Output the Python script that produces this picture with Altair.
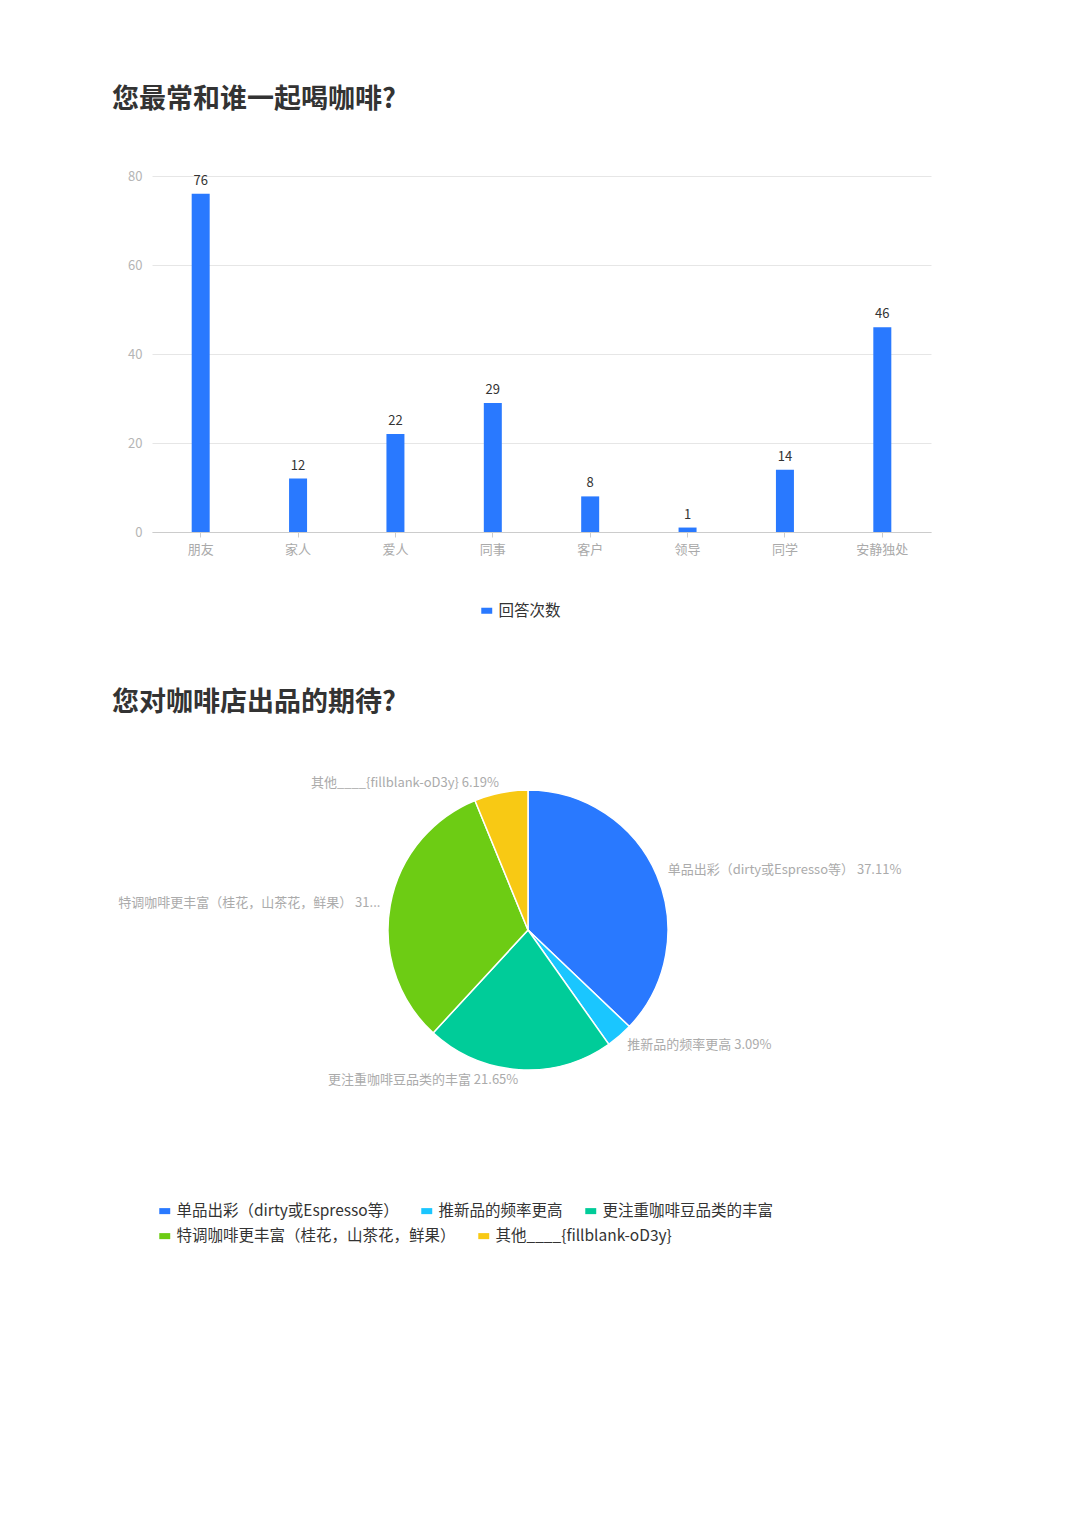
import altair as alt
import pandas as pd

# ---------------- data ----------------
bar_title = "您最常和谁一起喝咖啡?"
bar_categories = ["朋友", "家人", "爱人", "同事", "客户", "领导", "同学", "安静独处"]
bar_values = [76, 12, 22, 29, 8, 1, 14, 46]
bar_series = "回答次数"
y_ticks = [0, 20, 40, 60, 80]

pie_title = "您对咖啡店出品的期待?"
pie_categories = [
    "单品出彩（dirty或Espresso等）",
    "推新品的频率更高",
    "更注重咖啡豆品类的丰富",
    "特调咖啡更丰富（桂花，山茶花，鲜果）",
    "其他____{fillblank-oD3y}",
]
pie_values = [36, 3, 21, 31, 6]
pie_label_texts = [
    "单品出彩（dirty或Espresso等）  37.11%",
    "推新品的频率更高 3.09%",
    "更注重咖啡豆品类的丰富 21.65%",
    "特调咖啡更丰富（桂花，山茶花，鲜果） 31...",
    "其他____{fillblank-oD3y} 6.19%",
]
legend_row1 = pie_categories[:3]
legend_row2 = pie_categories[3:]
pie_colors = ["#2979FF", "#1AC6FF", "#00CC99", "#6DCC14", "#F8C914"]
bar_color = "#2979FF"

FONT = "Noto Sans CJK SC"
RECT = "M-1,-0.55L1,-0.55L1,0.55L-1,0.55Z"

# ---------------- bar chart ----------------
bar_df = pd.DataFrame({"cat": bar_categories, "value": bar_values, "series": bar_series})

bar_base = alt.Chart(bar_df).encode(
    x=alt.X("cat:N", sort=bar_categories, title=None,
            scale=alt.Scale(paddingInner=0, paddingOuter=0),
            axis=alt.Axis(labelAngle=0, domainColor="#cccccc", tickColor="#cccccc",
                          tickSize=5, labelColor="#aaaaaa", labelFontSize=13,
                          labelPadding=6, labelFont=FONT, grid=False)),
    y=alt.Y("value:Q", title=None, scale=alt.Scale(domain=[0, 80], nice=False),
            axis=alt.Axis(values=y_ticks, domain=False, ticks=False, gridColor="#e6e6e6",
                          labelColor="#b5b5b5", labelFontSize=13, labelPadding=10,
                          labelFont=FONT)),
)

bars = bar_base.mark_bar(size=18).encode(
    color=alt.Color("series:N", scale=alt.Scale(domain=[bar_series], range=[bar_color]),
                    legend=alt.Legend(title=None, orient="none", legendX=327, legendY=427,
                                      direction="horizontal",
                                      symbolType=RECT, symbolSize=120, labelFontSize=15.5,
                                      labelColor="#333333", labelFont=FONT,
                                      symbolStrokeWidth=0))
)
bar_text = bar_base.mark_text(baseline="bottom", dy=-6, fontSize=13, color="#333333",
                              font=FONT).encode(text="value:Q")

bar_chart = (bars + bar_text).properties(
    width=779, height=356,
    title=alt.TitleParams(bar_title, anchor="start", frame="group", dx=-40, offset=56,
                          fontSize=27, fontWeight="bold", color="#333333", font=FONT),
)

# ---------------- pie chart ----------------
total = sum(pie_values)
cum = 0
mids, sides = [], []
for v in pie_values:
    mids.append(cum + v / 2)
    sides.append("right" if (cum + v / 2) / total < 0.5 else "left")
    cum += v
pie_df = pd.DataFrame({
    "cat": pie_categories, "value": pie_values, "idx": list(range(len(pie_values))),
    "label": pie_label_texts, "mid": mids, "side": sides,
})


def legend_for(values, y):
    return alt.Legend(title=None, orient="none", legendX=5, legendY=y, values=values,
                      direction="horizontal", columnPadding=20,
                      symbolType=RECT, symbolSize=120, symbolStrokeWidth=0,
                      labelFontSize=15.5, labelColor="#333333", labelFont=FONT,
                      labelLimit=500)


def arc_layer(values, y):
    return alt.Chart(pie_df).mark_arc(outerRadius=140, stroke="white", strokeWidth=1.5).encode(
        theta=alt.Theta("value:Q", stack=True),
        order=alt.Order("idx:Q"),
        color=alt.Color("cat:N", sort=pie_categories,
                        scale=alt.Scale(domain=pie_categories, range=pie_colors),
                        legend=legend_for(values, y)),
    )


arcs1 = arc_layer(legend_row1, 433)
arcs2 = arc_layer(legend_row2, 458)

label_right = alt.Chart(pie_df).transform_filter("datum.side == 'right'").mark_text(
    align="left", baseline="middle", fontSize=13, color="#ababab", font=FONT
).encode(
    theta=alt.Theta("mid:Q", stack=None),
    radius=alt.value(152),
    text="label:N",
)
label_left = alt.Chart(pie_df).transform_filter("datum.side == 'left'").mark_text(
    align="right", baseline="middle", fontSize=13, color="#ababab", font=FONT
).encode(
    theta=alt.Theta("mid:Q", stack=None),
    radius=alt.value(150),
    text="label:N",
)

pie_chart = alt.layer(arcs1, arcs2, label_right, label_left).properties(
    width=752, height=320,
    title=alt.TitleParams(pie_title, anchor="start", frame="group", dx=-40, offset=53,
                          fontSize=27, fontWeight="bold", color="#333333", font=FONT),
).resolve_scale(theta="shared", color="independent").resolve_legend(color="independent")

chart = alt.vconcat(bar_chart, pie_chart, spacing=69).resolve_scale(
    color="independent"
).resolve_legend(color="independent").properties(
    padding={"left": 104, "top": 78, "right": 20, "bottom": 20}
).configure(font=FONT).configure_view(strokeWidth=0, stroke="transparent")

chart.save("out.html", embed_options={"renderer": "svg", "actions": False})
